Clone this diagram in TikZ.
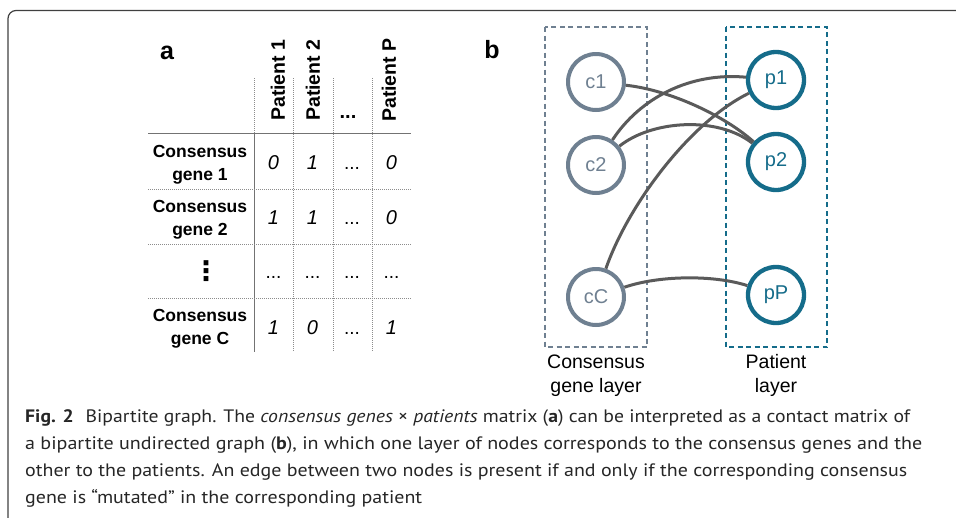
\documentclass[tikz,border=0pt]{standalone}
\usepackage{fontspec}
\usepackage{graphicx}
\setmainfont{Liberation Sans}
\newfontfamily\capfont{PT Sans}
\newfontfamily\symfont{DejaVu Sans}
\definecolor{cgray}{HTML}{6F8091}
\definecolor{cteal}{HTML}{156C8A}
\definecolor{edgec}{HTML}{5A5A5A}
\begin{document}
\begin{tikzpicture}[x=1pt,y=-1pt,
  hdr/.style={font=\fontsize{19.5}{20}\selectfont\bfseries, rotate=90, anchor=west, inner sep=0pt},
  rowlab/.style={font=\fontsize{17.5}{18}\selectfont\bfseries, anchor=base, inner sep=0pt},
  val/.style={font=\fontsize{20}{20}\selectfont\itshape, anchor=base, inner sep=0pt},
  dotsv/.style={font=\fontsize{19}{19}\selectfont, anchor=base, inner sep=0pt},
  gridsolid/.style={draw=black!55, line width=1pt},
  griddot/.style={draw=black!45, line width=0.8pt, dash pattern=on 1pt off 1pt},
  cnode/.style={circle, draw=cgray, text=cgray, line width=4pt, minimum size=56pt, inner sep=0pt, font=\fontsize{20}{20}\selectfont},
  pnode/.style={circle, draw=cteal, text=cteal, line width=4.3pt, minimum size=56pt, inner sep=0pt, font=\fontsize{20}{20}\selectfont},
  edge/.style={draw=edgec, line width=3pt},
  layerbox/.style={line width=2.4pt, dash pattern=on 5pt off 3.5pt},
  lablayer/.style={font=\fontsize{19.5}{20}\selectfont, anchor=base, inner sep=0pt},
  panel/.style={font=\fontsize{25}{25}\selectfont\bfseries, inner sep=0pt},
  capline/.style={anchor=base west, inner sep=0pt, text=black!85, font=\capfont\fontsize{18}{18}\selectfont}
]
\useasboundingbox (0,0) rectangle (956,517);
% frame
\draw[black!75, line width=1.2pt, rounded corners=8pt] (958,10.5) -- (8,10.5) -- (8,519);

% ---------- panel a ----------
\node[panel] (la) at (167,53) {a};
\node[hdr] (h1) at (278,121) {Patient 1};
\node[hdr] (h2) at (313,121) {Patient 2};
\node[dotsv, font=\fontsize{20}{20}\selectfont\bfseries] (h3) at (348,118) {...};
\node[hdr] (h4) at (389,122) {Patient P};

% grid
\draw[gridsolid] (148,133) -- (411,133);
\draw[griddot] (254,78) -- (254,133);
\draw[gridsolid] (254,133) -- (254,352);
\foreach \xx in {293,333,372} \draw[griddot] (\xx,78) -- (\xx,352);
\foreach \yy in {189,244,298} \draw[griddot] (148,\yy) -- (411,\yy);

% row labels
\node[rowlab] (r1a) at (200,157) {Consensus};
\node[rowlab] (r1b) at (200,180) {gene 1};
\node[rowlab] (r2a) at (200,212) {Consensus};
\node[rowlab] (r2b) at (200,235) {gene 2};
\node[inner sep=0pt, font=\symfont\bfseries\fontsize{27}{27}\selectfont] (r3) at (206,271.5) {⋮};
\node[rowlab] (r4a) at (200,321) {Consensus};
\node[rowlab] (r4b) at (200,344) {gene C};

% values
\node[val] (v11) at (273.5,169) {0};
\node[val] (v12) at (312.5,169) {1};
\node[dotsv] (v13) at (352,169) {...};
\node[val] (v14) at (391.5,169) {0};
\node[val] (v21) at (273.5,224) {1};
\node[val] (v22) at (312.5,224) {1};
\node[dotsv] (v23) at (352,224) {...};
\node[val] (v24) at (391.5,224) {0};
\node[dotsv] (v31) at (273.5,278) {...};
\node[dotsv] (v32) at (312.5,278) {...};
\node[dotsv] (v33) at (352,278) {...};
\node[dotsv] (v34) at (391.5,278) {...};
\node[val] (v41) at (273.5,334) {1};
\node[val] (v42) at (312.5,334) {0};
\node[dotsv] (v43) at (352,334) {...};
\node[val] (v44) at (391.5,334) {1};

% ---------- panel b ----------
\node[panel] (lb) at (492,50) {b};
\draw[layerbox, draw=cgray] (545,27) rectangle (647,347);
\draw[layerbox, draw=cteal] (726,27) rectangle (827,347);

\node[cnode] (c1) at (596,82) {c1};
\node[cnode] (c2) at (596,165) {c2};
\node[cnode] (cC) at (596,297) {cC};
\node[pnode] (p1) at (776,80) {p1};
\node[pnode] (p2) at (776,162) {p2};
\node[pnode] (pP) at (776,295) {pP};

\draw[edge] (c1) .. controls (670,90) and (725,116) .. (p2);
\draw[edge] (c2) .. controls (640,98) and (690,72) .. (p1);
\draw[edge] (c2) .. controls (652,120) and (718,116) .. (p2);
\draw[edge] (cC) .. controls (628,205) and (690,122) .. (p1);
\draw[edge] (cC) .. controls (660,275) and (715,275) .. (pP);

\node[lablayer] (l1a) at (596,368) {Consensus};
\node[lablayer] (l1b) at (596,392) {gene layer};
\node[lablayer] (l2a) at (776,368) {Patient};
\node[lablayer] (l2b) at (776,392) {layer};

% ---------- caption ----------
\node[capline] (cap1) at (25,422) {\resizebox{885pt}{\height}{\textbf{Fig. 2}\hspace{0.6em}Bipartite graph. The \textit{consensus genes} × \textit{patients} matrix (\textbf{a}) can be interpreted as a contact matrix of}};
\node[capline] (cap2) at (25,449) {\resizebox{897pt}{\height}{a bipartite undirected graph (\textbf{b}), in which one layer of nodes corresponds to the consensus genes and the}};
\node[capline] (cap3) at (25,476) {\resizebox{882pt}{\height}{other to the patients. An edge between two nodes is present if and only if the corresponding consensus}};
\node[capline] (cap4) at (25,503) {\resizebox{397pt}{\height}{gene is “mutated” in the corresponding patient}};
\end{tikzpicture}
\end{document}
